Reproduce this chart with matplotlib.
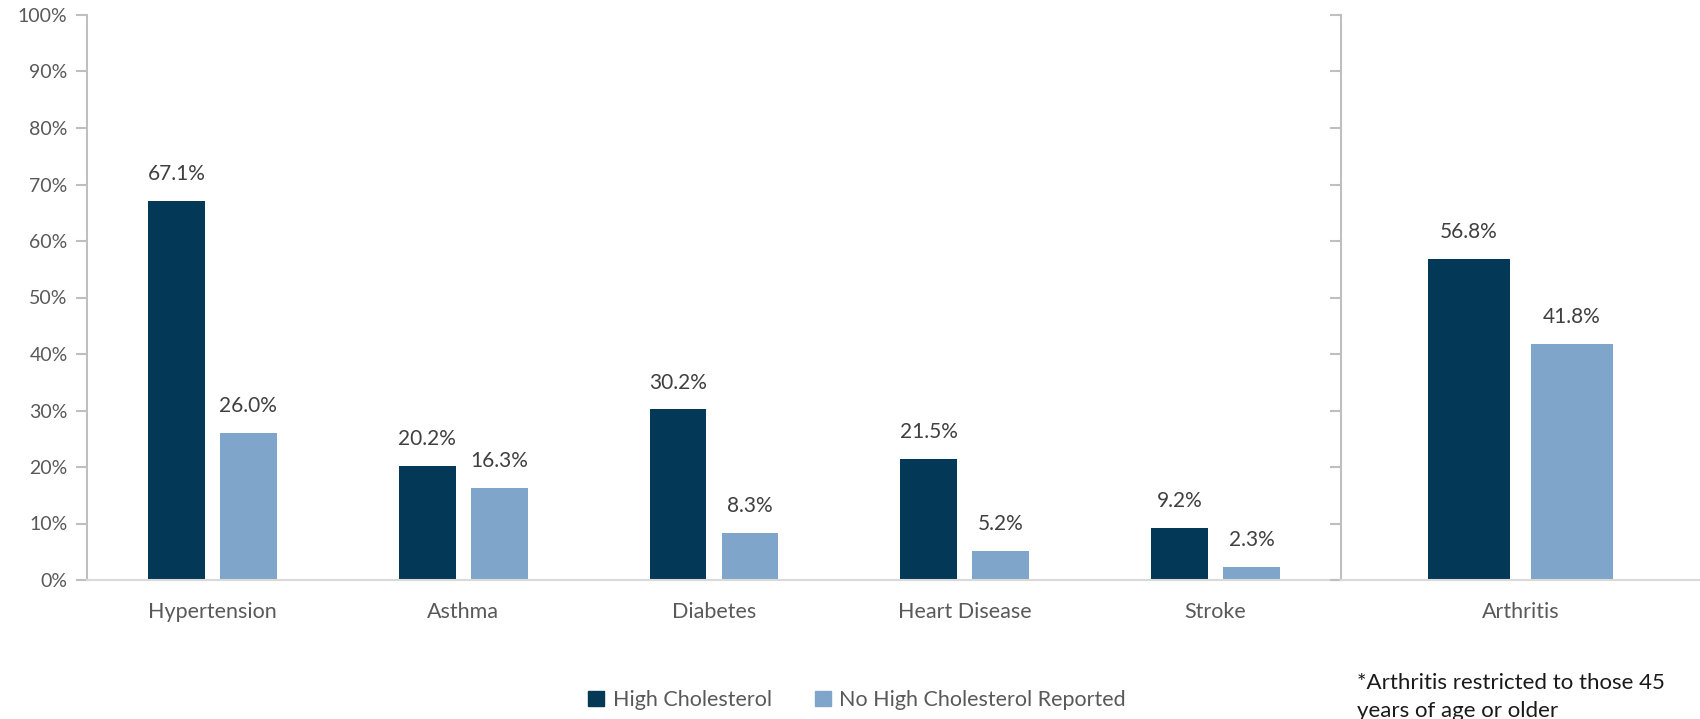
import matplotlib.pyplot as plt
import numpy as np
from matplotlib.patches import Patch

plt.rcParams["font.family"] = ["Lato", "DejaVu Sans"]

categories = ["Hypertension", "Asthma", "Diabetes", "Heart Disease", "Stroke"]
high_chol = [67.1, 20.2, 30.2, 21.5, 9.2]
no_high_chol = [26.0, 16.3, 8.3, 5.2, 2.3]

side_category = ["Arthritis"]
side_high = [56.8]
side_no_high = [41.8]

y_ticks = list(range(0, 101, 10))

DARK = "#033857"
LIGHT = "#7FA5CB"
TEXT = "#595959"
SPINE = "#BFBFBF"
BASE = "#D9D9D9"

W = 0.227
GAP = 0.06


def draw_panel(ax, cats, a, b, show_labels):
    x = np.arange(len(cats))
    off = (W + GAP) / 2
    bars_a = ax.bar(x - off, a, W, color=DARK)
    bars_b = ax.bar(x + off, b, W, color=LIGHT)
    for bars in (bars_a, bars_b):
        for r in bars:
            ax.annotate(f"{r.get_height():.1f}%",
                        (r.get_x() + r.get_width() / 2, r.get_height()),
                        xytext=(0, 12), textcoords="offset points",
                        ha="center", va="bottom", fontsize=15, color="#404040")
    ax.set_xlim(-0.5, len(cats) - 0.5)
    ax.set_ylim(0, 100)
    ax.set_xticks(x)
    ax.set_xticklabels(cats, fontsize=15.5, color=TEXT)
    ax.tick_params(axis="x", length=0, pad=16)
    ax.set_yticks(y_ticks)
    if show_labels:
        ax.set_yticklabels([f"{t}%" for t in y_ticks], fontsize=14, color=TEXT)
    else:
        ax.set_yticklabels([])
    ax.tick_params(axis="y", length=8, width=1.5, color=SPINE, pad=6)
    for s in ("top", "right"):
        ax.spines[s].set_visible(False)
    ax.spines["left"].set_color(SPINE)
    ax.spines["left"].set_linewidth(1.5)
    ax.spines["bottom"].set_color(BASE)
    ax.spines["bottom"].set_linewidth(1.5)


fig = plt.figure(figsize=(17, 7.19), dpi=100)
ax1 = fig.add_axes([87 / 1700, 1 - 580 / 719, (1341 - 87) / 1700, (580 - 15) / 719])
ax2 = fig.add_axes([1341 / 1700, 1 - 580 / 719, (1700 - 1341) / 1700, (580 - 15) / 719])

draw_panel(ax1, categories, high_chol, no_high_chol, True)
draw_panel(ax2, side_category, side_high, side_no_high, False)

handles = [Patch(color=DARK, label="High Cholesterol"),
           Patch(color=LIGHT, label="No High Cholesterol Reported")]
fig.legend(handles=handles, loc="center", bbox_to_anchor=(857 / 1700, 1 - 700 / 719),
           ncol=2, frameon=False, fontsize=15.5, handlelength=0.75, handleheight=0.75,
           handletextpad=0.4, columnspacing=2.0, labelcolor=TEXT)

fig.text(1357 / 1700, 1 - 673 / 719, "*Arthritis restricted to those 45\nyears of age or older",
         ha="left", va="top", fontsize=16, color="#1a1a1a", linespacing=1.5)

fig.savefig("out.png", dpi=100)
